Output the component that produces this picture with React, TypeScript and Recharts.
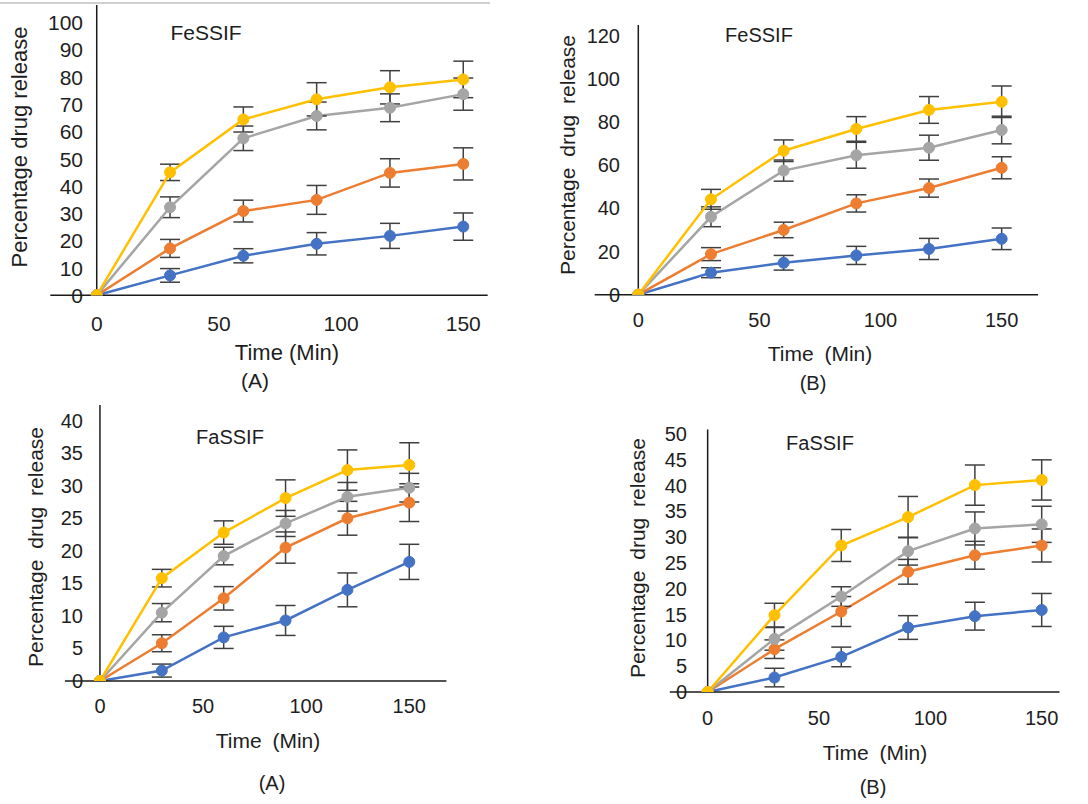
import React from 'react';
import { LineChart, Line, XAxis, YAxis, ErrorBar, ReferenceLine } from 'recharts';

// ---- Data ----
const times = [0, 30, 60, 90, 120, 150];
const xTicks = [0, 50, 100, 150];

// Panel A (top-left) FeSSIF
const feA_blue = [0, 7.3, 14.5, 18.9, 21.8, 25.2];
const feA_blueErr = [0, 2.5, 2.6, 4.1, 4.6, 5.0];
const feA_orange = [0, 17.2, 30.9, 35.0, 44.9, 48.2];
const feA_orangeErr = [0, 3.3, 4.0, 5.3, 5.2, 5.9];
const feA_gray = [0, 32.3, 57.6, 65.8, 68.8, 73.8];
const feA_grayErr = [0, 3.8, 4.5, 5.1, 5.1, 5.9];
const feA_yellow = [0, 45.1, 64.5, 71.9, 76.3, 79.2];
const feA_yellowErr = [0, 3.0, 4.6, 6.1, 6.1, 6.7];
const feA_yTicks = [0, 10, 20, 30, 40, 50, 60, 70, 80, 90, 100];

// Panel B (top-right) FeSSIF
const feB_blue = [0, 10.2, 14.8, 18.2, 21.2, 25.9];
const feB_blueErr = [0, 2.3, 3.4, 4.2, 4.9, 5.0];
const feB_orange = [0, 18.8, 30.0, 42.3, 49.4, 58.8];
const feB_orangeErr = [0, 3.0, 3.6, 4.0, 4.2, 5.1];
const feB_gray = [0, 36.1, 57.5, 64.6, 68.1, 76.3];
const feB_grayErr = [0, 4.6, 4.9, 6.0, 5.8, 6.4];
const feB_yellow = [0, 44.2, 66.7, 76.8, 85.6, 89.4];
const feB_yellowErr = [0, 4.6, 5.0, 5.7, 6.2, 7.3];
const feB_yTicks = [0, 20, 40, 60, 80, 100, 120];

// Panel C (bottom-left) FaSSIF
const faA_blue = [0, 1.6, 6.7, 9.3, 14.0, 18.3];
const faA_blueErr = [0, 1.0, 1.7, 2.3, 2.6, 2.7];
const faA_orange = [0, 5.8, 12.7, 20.5, 25.0, 27.4];
const faA_orangeErr = [0, 1.3, 1.8, 2.4, 2.6, 2.9];
const faA_gray = [0, 10.5, 19.2, 24.2, 28.3, 29.7];
const faA_grayErr = [0, 1.4, 1.35, 2.0, 2.2, 2.2];
const faA_yellow = [0, 15.8, 22.8, 28.1, 32.4, 33.2];
const faA_yellowErr = [0, 1.35, 1.8, 2.8, 3.1, 3.4];
const faA_yTicks = [0, 5, 10, 15, 20, 25, 30, 35, 40];

// Panel D (bottom-right) FaSSIF
const faB_blue = [0, 2.8, 6.8, 12.5, 14.7, 15.9];
const faB_blueErr = [0, 1.8, 1.9, 2.3, 2.7, 3.2];
const faB_orange = [0, 8.3, 15.6, 23.3, 26.5, 28.4];
const faB_orangeErr = [0, 1.8, 2.9, 2.4, 2.7, 3.2];
const faB_gray = [0, 10.3, 18.5, 27.3, 31.7, 32.5];
const faB_grayErr = [0, 2.2, 1.9, 2.7, 3.2, 3.5];
const faB_yellow = [0, 14.9, 28.4, 33.9, 40.1, 41.1];
const faB_yellowErr = [0, 2.3, 3.1, 4.0, 3.9, 3.9];
const faB_yTicks = [0, 5, 10, 15, 20, 25, 30, 35, 40, 45, 50];

const COLORS = { blue: '#4472C4', orange: '#ED7D31', gray: '#A5A5A5', yellow: '#FFC000' };
const FONT = 'Liberation Sans, Arial, sans-serif';
const TEXT = '#1e1e1e';

function buildRows(b: number[], be: number[], o: number[], oe: number[], g: number[], ge: number[], y: number[], ye: number[]) {
  return times.map((t, i) => ({
    t,
    blue: b[i], blueErr: be[i],
    orange: o[i], orangeErr: oe[i],
    gray: g[i], grayErr: ge[i],
    yellow: y[i], yellowErr: ye[i],
  }));
}

type PanelProps = {
  left: number; top: number; width: number; height: number;
  rows: any[];
  xDomain: [number, number];
  yDomain: [number, number];
  yTicks: number[];
  plotL: number; plotR: number; plotT: number; plotB: number;
  yTickRight: number; xTickY: number;
  title: string; titleX: number; titleY: number;
  yLabelX: number; yLabelY: number;
  xLabelX: number; xLabelY: number;
  tag: string; tagX: number; tagY: number;
  tickSize: number; labelSize: number;
  spaced?: boolean;
};

function Panel(p: PanelProps) {
  const xAxisH = 30;
  const yAxisW = 10;
  const margin = {
    left: p.plotL - yAxisW,
    right: p.width - p.plotR,
    top: p.plotT,
    bottom: p.height - p.plotB - xAxisH,
  };
  const YTick = (props: any) => (
    <text x={p.yTickRight} y={props.y} textAnchor="end" dominantBaseline="central"
      fontFamily={FONT} fontSize={p.tickSize} fill={TEXT}>{props.payload.value}</text>
  );
  const XTick = (props: any) => (
    <text x={props.x} y={p.xTickY} textAnchor="middle" dominantBaseline="central"
      fontFamily={FONT} fontSize={p.tickSize} fill={TEXT}>{props.payload.value}</text>
  );
  const series: Array<keyof typeof COLORS> = ['blue', 'orange', 'gray', 'yellow'];
  const ws = p.spaced ? 5 : 0;
  return (
    <div style={{ position: 'absolute', left: p.left, top: p.top, width: p.width, height: p.height }}>
      <LineChart width={p.width} height={p.height} data={p.rows} margin={margin}>
        <XAxis dataKey="t" type="number" domain={p.xDomain} ticks={xTicks} allowDataOverflow
          height={xAxisH} tickLine={false} tick={XTick} axisLine={{ stroke: '#1a1a1a', strokeWidth: 1.5 }} />
        <YAxis type="number" domain={p.yDomain} ticks={p.yTicks} allowDataOverflow
          width={yAxisW} tickLine={false} axisLine={false} tick={YTick} />
        <ReferenceLine x={0} stroke="#1a1a1a" strokeWidth={1.5} />
        {series.map((s) => (
          <Line key={s} dataKey={s} type="linear" stroke={COLORS[s]} strokeWidth={2.5}
            dot={{ r: 5.5, fill: COLORS[s], stroke: COLORS[s], strokeWidth: 1 }}
            isAnimationActive={false}>
            <ErrorBar dataKey={`${s}Err`} direction="y" width={10} stroke="#404040" strokeWidth={1.5} />
          </Line>
        ))}
        <text x={p.titleX} y={p.titleY} textAnchor="middle" dominantBaseline="central"
          fontFamily={FONT} fontSize={p.labelSize - 1} fill={TEXT}>{p.title}</text>
        <text x={p.yLabelX} y={p.yLabelY} textAnchor="middle" dominantBaseline="central"
          transform={`rotate(-90 ${p.yLabelX} ${p.yLabelY})`} fontFamily={FONT} fontSize={p.labelSize}
          fill={TEXT} wordSpacing={ws}>Percentage drug release</text>
        <text x={p.xLabelX} y={p.xLabelY} textAnchor="middle" dominantBaseline="central"
          fontFamily={FONT} fontSize={p.labelSize} fill={TEXT} wordSpacing={ws}>Time (Min)</text>
        <text x={p.tagX} y={p.tagY} textAnchor="middle" dominantBaseline="central"
          fontFamily={FONT} fontSize={p.labelSize - 1} fill={TEXT}>{p.tag}</text>
      </LineChart>
    </div>
  );
}

export default function App() {
  const rowsA = buildRows(feA_blue, feA_blueErr, feA_orange, feA_orangeErr, feA_gray, feA_grayErr, feA_yellow, feA_yellowErr);
  const rowsB = buildRows(feB_blue, feB_blueErr, feB_orange, feB_orangeErr, feB_gray, feB_grayErr, feB_yellow, feB_yellowErr);
  const rowsC = buildRows(faA_blue, faA_blueErr, faA_orange, faA_orangeErr, faA_gray, faA_grayErr, faA_yellow, faA_yellowErr);
  const rowsD = buildRows(faB_blue, faB_blueErr, faB_orange, faB_orangeErr, faB_gray, faB_grayErr, faB_yellow, faB_yellowErr);
  return (
    <div style={{ position: 'absolute', left: 0, top: 0, width: 1088, height: 804, background: '#fff', overflow: 'hidden' }}>
      <div style={{ position: 'absolute', left: 0, top: 2, width: 490, height: 1.5, background: '#d0d0d0' }} />
      <Panel left={0} top={0} width={540} height={400} rows={rowsA}
        xDomain={[-19, 160]} yDomain={[0, 106.5]} yTicks={feA_yTicks}
        plotL={50.3} plotR={487.7} plotT={5} plotB={295.3}
        yTickRight={83} xTickY={323}
        title="FeSSIF" titleX={206} titleY={32}
        yLabelX={19} yLabelY={147} xLabelX={287} xLabelY={352}
        tag="(A)" tagX={255} tagY={380} tickSize={21} labelSize={22} />
      <Panel left={540} top={0} width={548} height={400} rows={rowsB}
        xDomain={[-18, 165]} yDomain={[0, 125]} yTicks={feB_yTicks}
        plotL={54.7} plotR={498} plotT={24.9} plotB={294.7}
        yTickRight={80} xTickY={320}
        title="FeSSIF" titleX={219} titleY={35}
        yLabelX={27} yLabelY={155} xLabelX={280} xLabelY={353}
        tag="(B)" tagX={273} tagY={383} tickSize={20} labelSize={21} spaced />
      <Panel left={0} top={400} width={540} height={404} rows={rowsC}
        xDomain={[-17, 168]} yDomain={[0, 42.4]} yTicks={faA_yTicks}
        plotL={64.9} plotR={446.4} plotT={5} plotB={281}
        yTickRight={83} xTickY={306}
        title="FaSSIF" titleX={230} titleY={37}
        yLabelX={35} yLabelY={147} xLabelX={268} xLabelY={340}
        tag="(A)" tagX={272} tagY={383} tickSize={20} labelSize={21} spaced />
      <Panel left={540} top={400} width={548} height={404} rows={rowsD}
        xDomain={[-17, 158]} yDomain={[0, 50.9]} yTicks={faB_yTicks}
        plotL={129.8} plotR={519.5} plotT={29.4} plotB={292}
        yTickRight={147} xTickY={318}
        title="FaSSIF" titleX={280} titleY={43}
        yLabelX={97} yLabelY={158} xLabelX={335} xLabelY={352}
        tag="(B)" tagX={333} tagY={387} tickSize={20} labelSize={21} spaced />
    </div>
  );
}
